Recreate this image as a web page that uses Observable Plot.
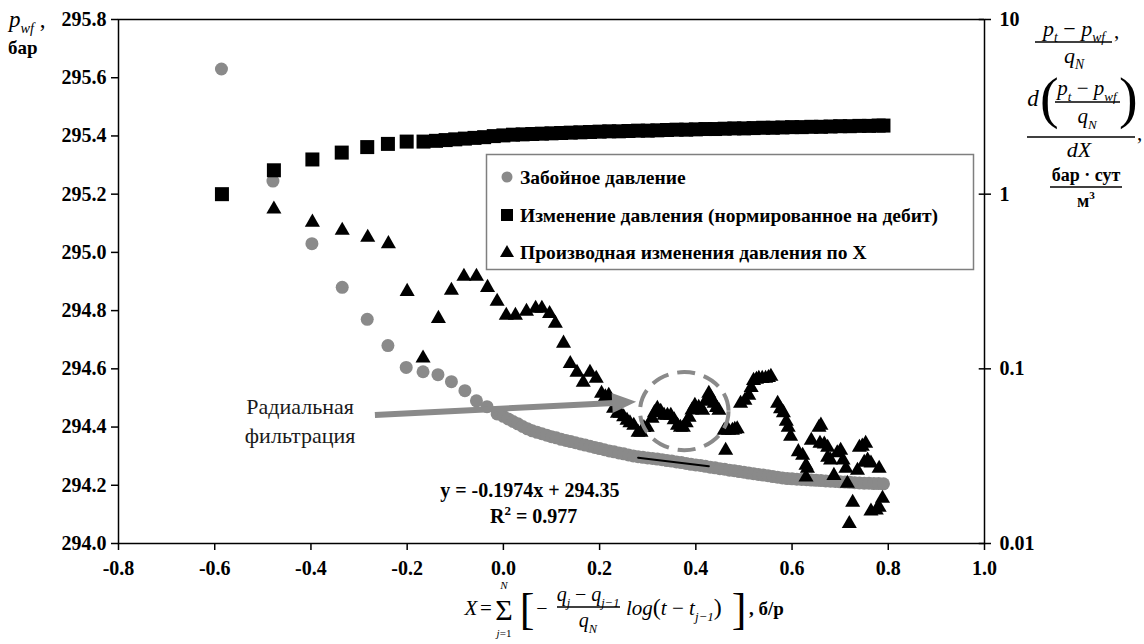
<!DOCTYPE html>
<html><head><meta charset="utf-8">
<script src="https://cdn.jsdelivr.net/npm/d3@7"></script>
<script src="https://cdn.jsdelivr.net/npm/@observablehq/plot@0.6"></script>
<style>
body{margin:0;background:#fff;}
#wrap{position:relative;width:1144px;height:644px;overflow:hidden;font-family:"Liberation Serif","DejaVu Serif",serif;}
#wrap svg text{font-family:"Liberation Serif","DejaVu Serif",serif;}
#over{position:absolute;left:0;top:0;pointer-events:none;}
</style></head><body><div id="wrap"></div>
<script>
// ---- data ----
const xTicks = [-0.8,-0.6,-0.4,-0.2,0.0,0.2,0.4,0.6,0.8,1.0];
const leftTicks = [294.0,294.2,294.4,294.6,294.8,295.0,295.2,295.4,295.6,295.8];
const rightTicks = [0.01,0.1,1,10];
const rightTickLabels = ["0.01","0.1","1","10"];
const legendLabels = ["Забойное давление","Изменение давления (нормированное на дебит)","Производная изменения давления по X"];

// bottom-hole pressure, bar (left axis)
const circleX = [-0.586,-0.479,-0.398,-0.335,-0.283,-0.240,-0.202,-0.167,-0.136,-0.108,-0.080,-0.056,-0.034,-0.013,
 0.000,0.010,0.020,0.030,0.040,0.050,0.060,0.070,0.080,0.090,0.100,0.110,0.120,0.130,0.140,0.150,0.160,0.170,0.180,0.190,
 0.200,0.210,0.220,0.230,0.240,0.250,0.260,0.270,0.280,0.290,0.300,0.310,0.320,0.330,0.340,0.350,0.360,0.370,0.380,0.390,
 0.400,0.410,0.420,0.430,0.440,0.450,0.460,0.470,0.480,0.490,0.500,0.510,0.520,0.530,0.540,0.550,0.560,0.570,0.580,0.590,
 0.600,0.610,0.620,0.630,0.640,0.650,0.660,0.670,0.680,0.690,0.700,0.710,0.720,0.730,0.740,0.750,0.760,0.770,0.780,0.790];
const circleY = [295.63,295.245,295.03,294.88,294.77,294.68,294.605,294.59,294.58,294.556,294.525,294.49,294.47,294.445,
 294.437,294.428,294.419,294.411,294.402,294.394,294.387,294.382,294.377,294.372,294.367,294.363,294.358,294.354,294.350,294.346,294.342,294.338,294.334,294.330,
 294.326,294.322,294.318,294.315,294.311,294.308,294.304,294.301,294.298,294.296,294.294,294.292,294.290,294.288,294.285,294.283,294.280,294.278,294.275,294.272,
 294.270,294.268,294.265,294.262,294.260,294.257,294.255,294.252,294.250,294.247,294.245,294.242,294.240,294.237,294.235,294.233,294.230,294.228,294.225,294.223,
 294.222,294.221,294.220,294.219,294.218,294.217,294.216,294.215,294.214,294.213,294.212,294.211,294.210,294.209,294.208,294.207,294.207,294.206,294.206,294.205];

// rate-normalised pressure change, bar·day/m3 (right log axis)
const squareX = [-0.585,-0.477,-0.397,-0.336,-0.283,-0.240,-0.201,-0.166,-0.14,-0.12,-0.10,-0.08,-0.06,-0.04,-0.02,0.00,0.02,0.04,0.06,0.08,0.10,0.12,0.14,0.16,0.18,0.20,0.22,0.24,0.26,0.28,0.30,0.32,0.34,0.36,0.38,0.40,0.42,0.44,0.46,0.48,0.50,0.52,0.54,0.56,0.58,0.60,0.62,0.64,0.66,0.68,0.70,0.72,0.74,0.76,0.78,0.79];
const squareV = [1.00,1.37,1.58,1.73,1.86,1.94,2.00,2.00,2.02,2.04,2.06,2.08,2.10,2.12,2.15,2.17,2.19,2.20,2.21,2.22,2.23,2.24,2.25,2.26,2.27,2.28,2.29,2.29,2.30,2.31,2.31,2.32,2.33,2.34,2.34,2.35,2.36,2.36,2.37,2.38,2.38,2.39,2.40,2.40,2.41,2.42,2.42,2.43,2.43,2.44,2.45,2.45,2.46,2.46,2.47,2.47];

// derivative of pressure change by X (right log axis)
const triX = [-0.477,-0.397,-0.335,-0.282,-0.239,-0.200,-0.167,-0.135,-0.108,-0.082,-0.056,-0.033,-0.013,0.006,0.025,0.048,0.067,0.080,0.096,0.108,
 0.125,0.139,0.153,0.166,0.180,0.193,0.204,0.212,0.219,0.229,0.237,0.243,0.250,0.257,0.263,0.271,0.280,0.286,0.292,0.299,
 0.309,0.314,0.320,0.327,0.334,0.341,0.348,0.355,0.362,0.368,0.374,0.380,0.386,0.392,0.398,0.406,0.414,0.420,0.427,0.432,
 0.438,0.443,0.448,0.459,0.462,0.468,0.476,0.481,0.486,0.493,0.502,0.510,0.515,0.520,0.526,0.531,0.538,0.545,0.551,0.556,
 0.570,0.576,0.582,0.588,0.592,0.597,0.613,0.622,0.629,0.632,0.629,0.640,0.656,0.660,0.658,0.667,0.674,0.674,0.680,0.687,
 0.694,0.701,0.706,0.712,0.715,0.726,0.719,0.736,0.740,0.746,0.753,0.750,0.757,0.764,0.781,0.764,0.775,0.781,0.788];
const triV = [0.82,0.69,0.62,0.565,0.52,0.277,0.115,0.194,0.281,0.338,0.338,0.292,0.243,0.202,0.202,0.213,0.222,0.222,0.207,0.182,
 0.140,0.107,0.0953,0.0835,0.0953,0.0881,0.0723,0.069,0.0705,0.0593,0.0555,0.0555,0.053,0.0507,0.049,0.0474,0.0432,0.0432,0.046,0.0462,
 0.052,0.056,0.0593,0.057,0.0541,0.0541,0.0541,0.051,0.0474,0.0462,0.0462,0.049,0.0527,0.058,0.0618,0.060,0.0578,0.065,0.0723,0.068,
 0.0634,0.060,0.0578,0.0444,0.0341,0.0444,0.0444,0.045,0.0453,0.0634,0.066,0.0705,0.078,0.0857,0.087,0.0881,0.088,0.0881,0.089,0.0904,
 0.0634,0.059,0.056,0.050,0.0462,0.041,0.0335,0.0319,0.028,0.0269,0.024,0.0389,0.0462,0.0475,0.0374,0.037,0.0355,0.0311,0.030,0.0245,
 0.033,0.0341,0.030,0.0269,0.0221,0.0172,0.013,0.0262,0.0355,0.036,0.0374,0.0291,0.030,0.0288,0.0269,0.0153,0.0155,0.0161,0.0181];

// linear trend shown on the chart
const trendSlope = -0.1974, trendIntercept = 294.35, trendFrom = 0.28, trendTo = 0.427;
// annotations (data units)
const arrowFrom = [-0.266, 294.44], arrowTo = [0.277, 294.485];
const ellipseC = [0.377, 294.453], ellipseR = [0.092, 0.134];
const noteText = "Радиальная\nфильтрация", notePos = [-0.4225, 294.426];
const eqText = "y = -0.1974x + 294.35", eqPos = [0.055, 294.182];
const r2Pos = [0.064, 294.089];

// ---- build ----
const Y0 = 294.0, Y1 = 295.8;
const toLeft = v => Y0 + (Math.log10(v) + 2) / 3 * (Y1 - Y0);
const circles = circleX.map((x, i) => ({x, y: circleY[i]}));
const squares = squareX.map((x, i) => ({x, y: toLeft(squareV[i])}));
const tris = triX.map((x, i) => ({x, y: toLeft(triV[i])}));
const FONT = "'Liberation Serif','DejaVu Serif',serif";
const GRAY = "#8a8a8a";
const TICKFS = 20;

function annotations(index, scales) {
  const x = scales.x, y = scales.y;
  const g = d3.create("svg:g");
  const cx = x(ellipseC[0]), cy = y(ellipseC[1]);
  const rx = Math.abs(x(ellipseC[0] + ellipseR[0]) - cx), ry = Math.abs(y(ellipseC[1] + ellipseR[1]) - cy);
  g.append("ellipse").attr("cx", cx).attr("cy", cy).attr("rx", rx).attr("ry", ry)
    .attr("fill", "none").attr("stroke", GRAY).attr("stroke-width", 4).attr("stroke-dasharray", "18 9");
  const x1 = x(arrowFrom[0]), y1 = y(arrowFrom[1]), x2 = x(arrowTo[0]), y2 = y(arrowTo[1]);
  const L = Math.hypot(x2 - x1, y2 - y1), ux = (x2 - x1) / L, uy = (y2 - y1) / L;
  const hl = 24, hw = 10;
  const bx = x2 - ux * hl, by = y2 - uy * hl;
  g.append("line").attr("x1", x1).attr("y1", y1).attr("x2", bx + ux * 2).attr("y2", by + uy * 2)
    .attr("stroke", GRAY).attr("stroke-width", 6);
  g.append("path").attr("d", `M${x2},${y2}L${bx - uy * hw},${by + ux * hw}L${bx + uy * hw},${by - ux * hw}Z`).attr("fill", GRAY);
  // R² label with a real superscript
  const t = g.append("text").attr("x", x(r2Pos[0])).attr("y", y(r2Pos[1]) + 6).attr("text-anchor", "middle")
    .attr("font-family", FONT).attr("font-size", 20).attr("font-weight", "bold").attr("fill", "#000");
  t.append("tspan").text("R");
  t.append("tspan").attr("dy", -8).attr("font-size", 13).text("2");
  t.append("tspan").attr("dy", 8).text(" = 0.977");
  return g.node();
}

const plot = Plot.plot({
  width: 1144, height: 644,
  marginLeft: 118, marginRight: 160, marginTop: 19, marginBottom: 101,
  x: {domain: [-0.8, 1.0]},
  y: {domain: [Y0, Y1]},
  style: {fontFamily: FONT, fontSize: TICKFS + "px", fontWeight: "bold", color: "#000", background: "#fff"},
  marks: [
    Plot.frame({stroke: "#000", strokeWidth: 1.5}),
    Plot.axisX({ticks: xTicks, tickFormat: d => d.toFixed(1), tickSize: 7, tickPadding: 10, label: null, fontSize: TICKFS, fontWeight: "bold", fontFamily: FONT, strokeWidth: 1.5}),
    Plot.axisY({ticks: leftTicks, tickFormat: d => d.toFixed(1), tickSize: 7, tickPadding: 5, label: null, fontSize: TICKFS, fontWeight: "bold", fontFamily: FONT, strokeWidth: 1.5}),
    Plot.axisY({anchor: "right", ticks: rightTicks.map(toLeft), tickSize: 6, tickPadding: 9, label: null, fontSize: TICKFS, fontWeight: "bold", fontFamily: FONT, strokeWidth: 1.5,
      tickFormat: d => rightTickLabels[rightTicks.findIndex(t => Math.abs(toLeft(t) - d) < 1e-6)]}),
    Plot.ruleY(rightTicks, {y: toLeft, x1: 0.989, x2: 1.0, stroke: "#000", strokeWidth: 1.5}),
    Plot.dot(circles, {x: "x", y: "y", r: 6.5, fill: GRAY}),
    Plot.line([trendFrom, trendTo], {x: d => d, y: d => trendSlope * d + trendIntercept, stroke: "#000", strokeWidth: 2}),
    Plot.dot(squares, {x: "x", y: "y", symbol: "square", r: 7.9, fill: "#000"}),
    Plot.dot(tris, {x: "x", y: "y", symbol: "triangle", r: 5.6, fill: "#000"}),
    annotations,
    Plot.text([noteText], {x: notePos[0], y: notePos[1], text: d => d, fontSize: 22, fontWeight: "normal", fontFamily: FONT, fill: "#1a1a1a", lineHeight: 1.3}),
    Plot.text([eqText], {x: eqPos[0], y: eqPos[1], text: d => d, fontSize: 20, fontWeight: "bold", fontFamily: FONT, fill: "#000"})
  ]
});
document.getElementById("wrap").appendChild(plot);

// ---- overlay: legend and axis titles ----
const ov = d3.select("#wrap").append("svg").attr("id", "over").attr("width", 1144).attr("height", 644)
  .attr("font-family", FONT);

function rich(x, y, parts, o = {}) {
  const size = o.size || 20;
  const t = ov.append("text").attr("x", x).attr("y", y).attr("text-anchor", o.anchor || "middle")
    .attr("font-size", size).attr("font-style", o.italic === false ? "normal" : "italic")
    .attr("font-weight", o.bold ? "bold" : "normal").attr("fill", "#000");
  let shift = 0;
  for (const p of parts) {
    const ts = t.append("tspan").text(p.t);
    const want = p.sub ? size * 0.28 : p.sup ? -size * 0.42 : 0;
    if (want !== shift) { ts.attr("dy", want - shift); shift = want; }
    if (p.sub || p.sup) ts.attr("font-size", size * 0.62);
    if (p.n) ts.attr("font-style", "normal");
    if (p.size) ts.attr("font-size", p.size);
  }
  return t;
}
function hline(x1, x2, y, w = 1.3) {
  ov.append("line").attr("x1", x1).attr("x2", x2).attr("y1", y).attr("y2", y).attr("stroke", "#000").attr("stroke-width", w);
}

// legend
ov.append("rect").attr("x", 486.5).attr("y", 154.5).attr("width", 487).attr("height", 115)
  .attr("fill", "#fff").attr("stroke", "#7f7f7f").attr("stroke-width", 1.5);
const legY = [177, 215, 252];
ov.append("circle").attr("cx", 507).attr("cy", legY[0]).attr("r", 5.5).attr("fill", GRAY);
ov.append("rect").attr("x", 501).attr("y", legY[1] - 6).attr("width", 12).attr("height", 12).attr("fill", "#000");
ov.append("path").attr("d", `M507,${legY[2] - 7}L514,${legY[2] + 5}L500,${legY[2] + 5}Z`).attr("fill", "#000");
legendLabels.forEach((s, i) => {
  ov.append("text").attr("x", 520).attr("y", legY[i] + 6.5).attr("font-size", 19.5).attr("font-weight", "bold").text(s);
});

// left axis title
rich(9, 27, [{t: "p"}, {t: "wf", sub: true}, {t: " ,", n: true}], {anchor: "start", size: 23});
ov.append("text").attr("x", 8).attr("y", 54).attr("font-size", 19).attr("font-weight", "bold").text("бар");

// right axis title
const pp = [{t: "p"}, {t: "t", sub: true}, {t: " − ", n: true}, {t: "p"}, {t: "wf", sub: true}];
rich(1074, 36, pp, {size: 22});
ov.append("text").attr("x", 1114).attr("y", 38).attr("font-size", 21).text(",");
hline(1035, 1112, 42);
rich(1074, 63, [{t: "q"}, {t: "N", sub: true}], {size: 22});
rich(1033, 106, [{t: "d"}], {size: 23});
ov.append("text").attr("x", 1040).attr("y", 117).attr("font-size", 56).text("(");
ov.append("text").attr("x", 1119).attr("y", 117).attr("font-size", 56).text(")");
rich(1087, 95, pp, {size: 21});
hline(1055, 1120, 102);
rich(1087, 123, [{t: "q"}, {t: "N", sub: true}], {size: 21});
hline(1027, 1135, 137);
ov.append("text").attr("x", 1137).attr("y", 140).attr("font-size", 21).text(",");
rich(1079, 157, [{t: "dX"}], {size: 22});
rich(1086, 181, [{t: "бар · сут"}], {size: 18, bold: true, italic: false});
hline(1050, 1122, 187);
rich(1086, 207, [{t: "м"}, {t: "3", sup: true}], {size: 18, bold: true, italic: false});

// x axis title
const fy = -4;
rich(471, 619 + fy, [{t: "X"}], {size: 21});
rich(486, 619 + fy, [{t: "="}], {size: 21, italic: false});
rich(504, 624 + fy, [{t: "Σ"}], {size: 30, italic: false});
rich(504, 593 + fy, [{t: "N"}], {size: 11});
rich(504, 641 + fy, [{t: "j"}, {t: "=1", n: true}], {size: 11});
rich(527, 628 + fy, [{t: "["}], {size: 44, italic: false});
rich(542, 619 + fy, [{t: "−"}], {size: 20, italic: false});
rich(588, 605 + fy, [{t: "q"}, {t: "j", sub: true}, {t: " − ", n: true}, {t: "q"}, {t: "j−1", sub: true}], {size: 20});
hline(557, 620, 611 + fy);
rich(588, 631 + fy, [{t: "q"}, {t: "N", sub: true}], {size: 20});
rich(626, 619 + fy, [{t: "log"}, {t: "(", n: true, size: 24}, {t: "t"}, {t: " − ", n: true}, {t: "t"}, {t: "j−1", sub: true}, {t: ")", n: true, size: 24}], {size: 21, anchor: "start"});
rich(739, 628 + fy, [{t: "]"}], {size: 44, italic: false});
ov.append("text").attr("x", 749).attr("y", 619 + fy).attr("font-size", 19).attr("font-weight", "bold").text(", б/р");
</script></body></html>
